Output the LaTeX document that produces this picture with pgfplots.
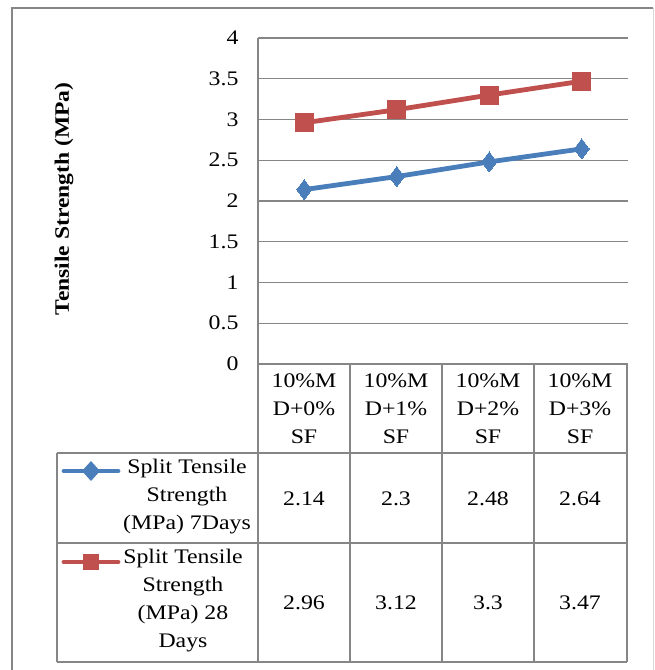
\documentclass[border=0pt]{standalone}
\usepackage{fontspec}
\setmainfont{Liberation Serif}[FakeStretch=1.15]
\usepackage{pgfplots}
\pgfplotsset{compat=1.18}
\definecolor{sevenday}{RGB}{74,126,187}
\definecolor{twentyeight}{RGB}{192,80,77}
\definecolor{gridgray}{RGB}{134,134,134}
\begin{document}
\begin{tikzpicture}[x=1pt,y=1pt,font=\fontsize{20.7}{28}\selectfont]
\useasboundingbox (0pt,0pt) rectangle (655pt,-670pt);
% chart frame
\draw[gridgray,line width=1.2pt] (12pt,-675pt) -- (12pt,-8pt) -- (653pt,-8pt);
\draw[gray!30,line width=1pt] (653pt,-8pt) -- (653pt,-675pt);
\begin{axis}[
  at={(258pt,-364pt)}, anchor=south west,
  width=370pt, height=326pt, scale only axis,
  xmin=0, xmax=4, ymin=0, ymax=4,
  ytick={0,0.5,...,4},
  xtick=\empty,
  ymajorgrids, grid style={gridgray,line width=1.2pt},
  axis x line*=bottom, axis y line*=left,
  axis line style={gridgray,line width=1.2pt,-},
  major tick length=0pt,
  /pgf/number format/assume math mode=true,
  yticklabel style={font=\fontsize{20.7}{24}\selectfont, xshift=-16pt},
  clip=false,
]
\addplot[sevenday, line width=4.8pt, mark=diamond*, mark size=10pt,
  mark options={solid,line width=0pt}]
  coordinates {(0.5,2.14) (1.5,2.3) (2.5,2.48) (3.5,2.64)};
\addplot[twentyeight, line width=4.8pt, mark=square*, mark size=9pt,
  mark options={solid,line width=0pt}]
  coordinates {(0.5,2.96) (1.5,3.12) (2.5,3.3) (3.5,3.47)};
\end{axis}
% value axis title
\node[rotate=90, font=\fontsize{20.5}{24}\selectfont\bfseries] at (64pt,-199pt) {Tensile Strength (MPa)};
% data table
\begin{scope}[gridgray,line width=1.2pt]
\draw (258pt,-364pt) -- (627pt,-364pt);
\draw (57pt,-453pt) -- (627pt,-453pt);
\draw (57pt,-543pt) -- (627pt,-543pt);
\draw (57pt,-662pt) -- (627pt,-662pt);
\draw (57pt,-453pt) -- (57pt,-662pt);
\foreach \x in {258,350,442,534,627} \draw (\x pt,-364pt) -- (\x pt,-662pt);
\end{scope}
\node[align=center] at (304pt,-409pt) {10\%M\\D+0\%\\SF};
\node[align=center] at (396pt,-409pt) {10\%M\\D+1\%\\SF};
\node[align=center] at (488pt,-409pt) {10\%M\\D+2\%\\SF};
\node[align=center] at (580pt,-409pt) {10\%M\\D+3\%\\SF};
\node at (304pt,-499pt) {2.14};
\node at (396pt,-499pt) {2.3};
\node at (488pt,-499pt) {2.48};
\node at (580pt,-499pt) {2.64};
\node at (304pt,-603pt) {2.96};
\node at (396pt,-603pt) {3.12};
\node at (488pt,-603pt) {3.3};
\node at (580pt,-603pt) {3.47};
% series keys
\draw[sevenday,line width=4.8pt,line cap=round] (64pt,-471pt) -- (118pt,-471pt);
\fill[sevenday] (91pt,-461pt) -- (100pt,-471pt) -- (91pt,-481pt) -- (82pt,-471pt) -- cycle;
\draw[twentyeight,line width=4.8pt,line cap=round] (64pt,-562pt) -- (118pt,-562pt);
\fill[twentyeight] (83pt,-554pt) rectangle (99pt,-570pt);
\node[align=center, anchor=north, inner sep=0pt] at (187pt,-459pt) {Split Tensile\\Strength\\(MPa) 7Days};
\node[align=center, anchor=north, inner sep=0pt] at (183pt,-549pt) {Split Tensile\\Strength\\(MPa) 28\\Days};
\end{tikzpicture}
\end{document}
